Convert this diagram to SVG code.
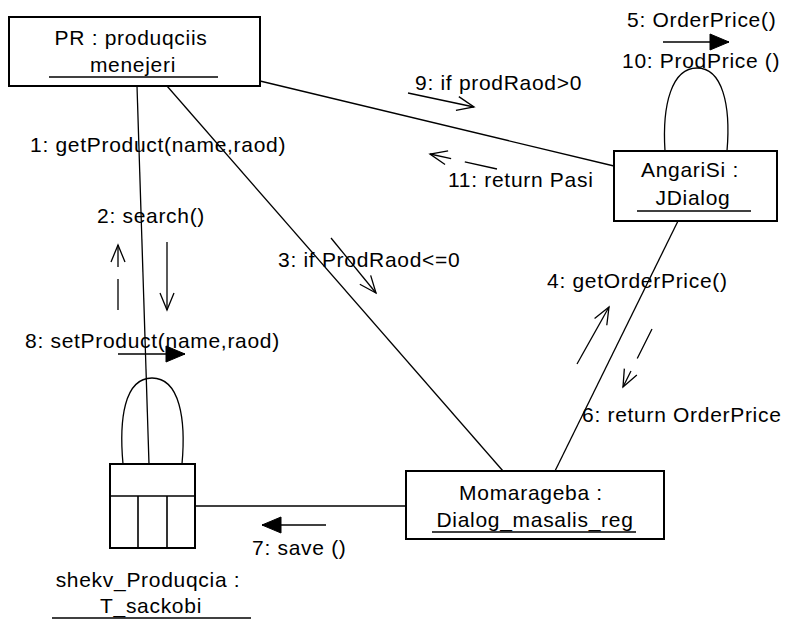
<svg xmlns="http://www.w3.org/2000/svg" width="785" height="620" viewBox="0 0 785 620">
<style>
text{font-family:"Liberation Sans",Arial,sans-serif;font-size:21px;fill:#000;letter-spacing:0.7px}
.box{fill:#fff;stroke:#000;stroke-width:2}
.ln{fill:none;stroke:#000;stroke-width:1.3}
.ul{stroke:#000;stroke-width:1.6}
.msg{fill:none;stroke:#000;stroke-width:1.3}
.ret{fill:none;stroke:#000;stroke-width:1.3;stroke-dasharray:33 14}
.c{text-anchor:middle}
</style>
<defs>
<marker id="open" markerUnits="userSpaceOnUse" markerWidth="24" markerHeight="20" refX="0" refY="0" viewBox="-20 -10 24 20" orient="auto" overflow="visible">
<path d="M-17,-7 L0,0 L-17,7" fill="none" stroke="#000" stroke-width="1.3"/>
</marker>
<marker id="fill" markerUnits="userSpaceOnUse" markerWidth="24" markerHeight="20" refX="0" refY="0" viewBox="-22 -10 24 20" orient="auto" overflow="visible">
<path d="M0,0 L-19,-8 L-19,8 Z" fill="#000" stroke="#000" stroke-width="1"/>
</marker>
</defs>

<g id="connectors">
<line class="ln" x1="137" y1="86" x2="149" y2="464"/>
<line class="ln" x1="167" y1="86" x2="503" y2="471"/>
<line class="ln" x1="260" y1="81" x2="614" y2="166"/>
<line class="ln" x1="678" y1="221" x2="555" y2="471"/>
<line class="ln" x1="195" y1="506" x2="406" y2="506"/>
<path class="ln" d="M123,464 C119,420 124,378 152,378 C180,378 186,420 182,464"/>
<path class="ln" d="M665,151 C662,104 672,68 697,68 C722,68 731,104 727,151"/>
</g>

<g id="messages">
<line class="msg" x1="167" y1="242" x2="167" y2="310" marker-end="url(#open)"/>
<line class="ret" x1="118" y1="310" x2="118" y2="245" marker-end="url(#open)" style="stroke-dasharray:31 12"/>
<line class="msg" x1="331" y1="238" x2="376" y2="293" marker-end="url(#open)"/>
<line class="msg" x1="408" y1="93" x2="474" y2="107" marker-end="url(#open)"/>
<line class="ret" x1="497" y1="169" x2="430" y2="154" marker-end="url(#open)"/>
<line class="msg" x1="577" y1="364" x2="609" y2="307" marker-end="url(#open)"/>
<line class="ret" x1="652" y1="329" x2="623" y2="387" marker-end="url(#open)"/>
<line class="msg" x1="663" y1="42" x2="729" y2="42" marker-end="url(#fill)"/>
<line class="msg" x1="118" y1="354" x2="185" y2="354" marker-end="url(#fill)"/>
<line class="msg" x1="326" y1="525" x2="262" y2="525" marker-end="url(#fill)"/>
</g>

<g id="labels">
<text x="30" y="152">1: getProduct(name,raod)</text>
<text x="97" y="223">2: search()</text>
<text x="278" y="267">3: if ProdRaod&lt;=0</text>
<text x="547" y="288">4: getOrderPrice()</text>
<text x="627" y="27">5: OrderPrice()</text>
<text x="582" y="422">6: return OrderPrice</text>
<text x="252" y="555">7: save ()</text>
<text x="25" y="348">8: setProduct(name,raod)</text>
<text x="415" y="90">9: if prodRaod&gt;0</text>
<text x="622" y="68">10: ProdPrice ()</text>
<text x="448" y="187">11: return Pasi</text>
</g>

<g id="PR">
<rect class="box" x="9" y="17" width="251" height="69"/>
<text class="c" x="131" y="45">PR : produqciis</text>
<text class="c" x="133" y="72">menejeri</text>
<line class="ul" x1="49" y1="77" x2="218" y2="77"/>
</g>

<g id="AngariSi">
<rect class="box" x="614" y="151" width="163" height="70"/>
<text class="c" x="690" y="177">AngariSi :</text>
<text class="c" x="693" y="205">JDialog</text>
<line class="ul" x1="637" y1="211" x2="751" y2="211"/>
</g>

<g id="Momarageba">
<rect class="box" x="406" y="471" width="258" height="68"/>
<text class="c" x="531" y="500">Momarageba :</text>
<text class="c" x="535" y="527">Dialog_masalis_reg</text>
<line class="ul" x1="432" y1="532" x2="636" y2="532"/>
</g>

<g id="shekv">
<rect class="box" x="110" y="464" width="85" height="84"/>
<line class="ul" x1="110" y1="496" x2="195" y2="496"/>
<line class="ul" x1="138" y1="496" x2="138" y2="548"/>
<line class="ul" x1="167" y1="496" x2="167" y2="548"/>
<text class="c" x="148" y="587">shekv_Produqcia :</text>
<text class="c" x="151" y="613">T_sackobi</text>
<line class="ul" x1="52" y1="618" x2="251" y2="618"/>
</g>
</svg>
